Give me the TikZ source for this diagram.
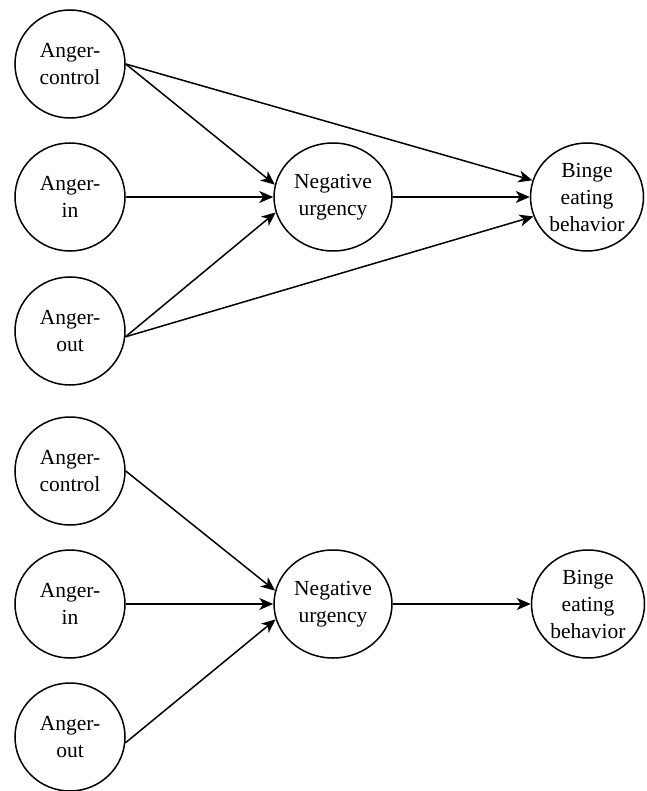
\documentclass[tikz,border=0pt]{standalone}
\usepackage{fontspec}
\setmainfont{Liberation Serif}
\usetikzlibrary{shapes.geometric,arrows.meta}
\begin{document}
\begin{tikzpicture}[x=1pt,y=-1pt,
  var/.style={ellipse,draw,line width=1.5pt,inner sep=0pt,align=center,
    minimum width=110pt,minimum height=108pt,
    font=\fontsize{21.5}{27}\selectfont},
  wide/.style={var,minimum width=118pt},
  mid/.style={var,minimum width=113pt},
  conn/.style={line width=1.5pt,-{Stealth[length=14pt,width=12pt,inset=4pt]}}]
\useasboundingbox (0,0) rectangle (646,791);
% top model
\node[var] (ac) at (70,64) {Anger-\\control};
\node[var] (ai) at (70,197) {Anger-\\in};
\node[var] (ao) at (70,331) {Anger-\\out};
\node[wide] (nu) at (333,197) {Negative\\urgency};
\node[mid] (be) at (587,197) {Binge\\eating\\behavior};
\draw[conn] (ac.east) -- (nu.168);
\draw[conn] (ai.east) -- (nu.west);
\draw[conn] (ao.-6) -- (nu.195);
\draw[conn] (ac.east) -- (be.163);
\draw[conn] (nu.east) -- (be.west);
\draw[conn] (ao.-6) -- (be.200);
% bottom model
\node[var] (ac2) at (70,471) {Anger-\\control};
\node[var] (ai2) at (70,604) {Anger-\\in};
\node[var] (ao2) at (70,737) {Anger-\\out};
\node[wide] (nu2) at (333,604) {Negative\\urgency};
\node[mid] (be2) at (588,604) {Binge\\eating\\behavior};
\draw[conn] (ac2.east) -- (nu2.167);
\draw[conn] (ai2.east) -- (nu2.west);
\draw[conn] (ao2.-6) -- (nu2.195);
\draw[conn] (nu2.east) -- (be2.west);
\end{tikzpicture}
\end{document}
